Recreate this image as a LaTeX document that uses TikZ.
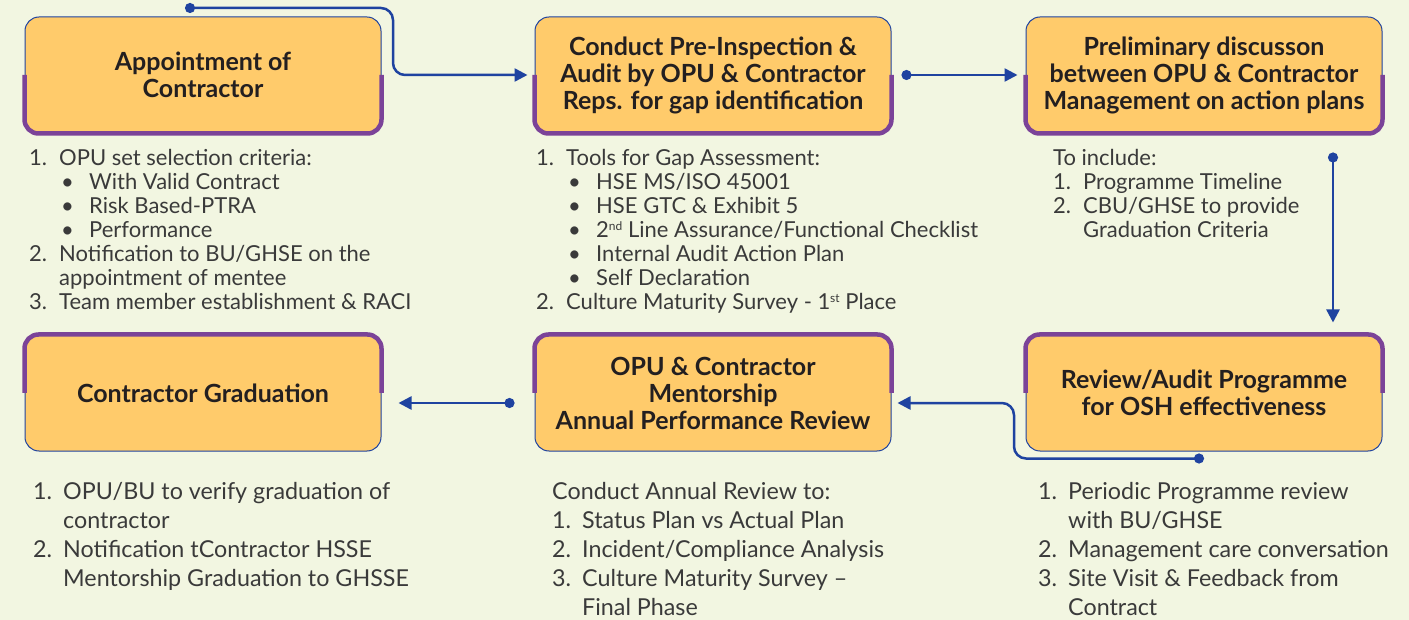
\documentclass[tikz,border=0pt]{standalone}
\usepackage{fontspec}
\setmainfont{Lato}
\usetikzlibrary{arrows.meta,positioning,calc}

\definecolor{bgcol}{HTML}{F2F6E1}
\definecolor{boxfill}{HTML}{FFCB6B}
\definecolor{rimpurple}{HTML}{7B4398}
\definecolor{flowblue}{HTML}{1F43A0}
\definecolor{inktext}{HTML}{231F20}
\definecolor{listtext}{HTML}{3A3A3A}

\newcommand{\num}[1]{\makebox[30pt][l]{#1}}
\newcommand{\bul}{\hspace*{32pt}\makebox[28pt][l]{\textbullet}}
\newcommand{\cont}{\hspace*{30pt}}
\newcommand{\ordsup}[1]{\raisebox{7pt}{\fontsize{12}{12}\selectfont #1}}

\tikzset{
  stepbox/.style={rectangle,rounded corners=14pt,draw=flowblue,line width=1pt,fill=boxfill,
    minimum width=356pt,minimum height=116pt,inner sep=0pt,align=center,text=inktext,
    font=\fontsize{25}{27}\selectfont\bfseries},
  rim/.style={rimpurple,line width=4.5pt,rounded corners=14pt},
  flow/.style={flowblue,line width=2.5pt,{Circle[length=10pt]}-{Triangle[length=13pt,width=13pt]}},
  notes/.style={anchor=north west,inner sep=0pt,align=left,text=listtext,
    font=\fontsize{22}{24}\selectfont},
  wide notes/.style={notes,font=\fontsize{23.3}{29}\selectfont},
}

\begin{document}
\begin{tikzpicture}[x=1pt,y=-1pt]
\path[use as bounding box,fill=bgcol] (0,0) rectangle (1409,620);

% top row
\node[stepbox] (appoint) at (203,75) {Appointment of\\Contractor};
\node[stepbox] (preinsp) at (713,75) {Conduct Pre-Inspection \&\\Audit by OPU \& Contractor\\Reps. for gap identification};
\node[stepbox] (prelim) at (1204,75) {Preliminary discusson\\between OPU \& Contractor\\Management on action plans};
% bottom row
\node[stepbox] (gradu) at (203,393) {Contractor Graduation};
\node[stepbox] (mentor) at (713,393) {OPU \& Contractor\\Mentorship\\Annual Performance Review};
\node[stepbox] (review) at (1204,393) {Review/Audit Programme\\for OSH effectiveness};

\foreach \b in {appoint,preinsp,prelim}
  \draw[rim] (\b.west) -- (\b.south west) -- (\b.south east) -- (\b.east);
\foreach \b in {gradu,mentor,review}
  \draw[rim] (\b.west) -- (\b.north west) -- (\b.north east) -- (\b.east);

% notes under the boxes
\node[notes] (appointlist) at (29,149) {\num{1.}OPU set selection criteria:\\
  \bul With Valid Contract\\ \bul Risk Based-PTRA\\ \bul Performance\\
  \num{2.}Notification to BU/GHSE on the\\ \cont appointment of mentee\\
  \num{3.}Team member establishment \& RACI};
\node[notes] (preinsplist) at (536,149) {\num{1.}Tools for Gap Assessment:\\
  \bul HSE MS/ISO 45001\\ \bul HSE GTC \& Exhibit 5\\
  \bul 2\ordsup{nd} Line Assurance/Functional Checklist\\
  \bul Internal Audit Action Plan\\ \bul Self Declaration\\
  \num{2.}Culture Maturity Survey - 1\ordsup{st} Place};
\node[notes] (prelimlist) at (1053,149) {To include:\\ \num{1.}Programme Timeline\\
  \num{2.}CBU/GHSE to provide\\ \cont Graduation Criteria};
\node[wide notes] (gradulist) at (33,482) {\num{1.}OPU/BU to verify graduation of\\ \cont contractor\\
  \num{2.}Notification tContractor HSSE\\ \cont Mentorship Graduation to GHSSE};
\node[wide notes] (mentorlist) at (552,482) {Conduct Annual Review to:\\
  \num{1.}Status Plan vs Actual Plan\\ \num{2.}Incident/Compliance Analysis\\
  \num{3.}Culture Maturity Survey --\\ \cont Final Phase};
\node[wide notes] (reviewlist) at (1038,482) {\num{1.}Periodic Programme review\\ \cont with BU/GHSE\\
  \num{2.}Management care conversation\\ \num{3.}Site Visit \& Feedback from\\ \cont Contract};

% connectors
\coordinate (start) at (185,8);
\draw[flow,rounded corners=12pt,shorten >=7pt] (start) -- ++(208,0) |- (preinsp.west);
\draw[flow,shorten <=10pt,shorten >=8pt] (preinsp.east) -- (prelim.west);
\draw[flow,shorten <=19pt,shorten >=12pt] ([xshift=129pt]prelim.south) -- ([xshift=129pt]review.north);
\draw[flow,rounded corners=12pt,shorten >=6pt] ([yshift=-7pt]review.south) -- ++(-190,0) |- ([yshift=-10pt]mentor.east);
\draw[flow,shorten <=20pt,shorten >=17pt] ([yshift=-10pt]mentor.west) -- ([yshift=-10pt]gradu.east);
\end{tikzpicture}
\end{document}
